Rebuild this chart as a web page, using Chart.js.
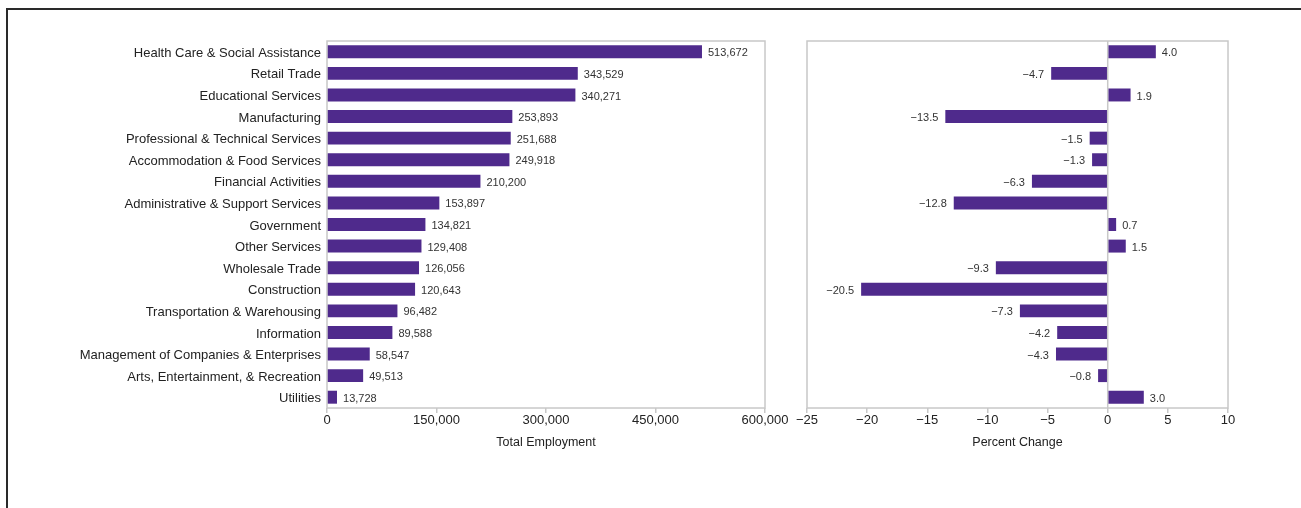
<!DOCTYPE html>
<html>
<head>
<meta charset="utf-8">
<script src="https://cdn.jsdelivr.net/npm/chart.js@4.4.0/dist/chart.umd.min.js"></script>
<style>
  html, body { margin: 0; padding: 0; background: #fff; width: 1301px; height: 508px; overflow: hidden; }
  #frame { position: absolute; left: 6px; top: 8px; width: 1310px; height: 520px; border: 2px solid #2a2a2a; box-sizing: border-box; }
  .box { position: absolute; top: 0; height: 508px; }
  #c1box { left: 0; width: 790px; }
  #c2box { left: 790px; width: 511px; }
</style>
</head>
<body>
<div id="frame"></div>
<div class="box" id="c1box"><canvas id="c1"></canvas></div>
<div class="box" id="c2box"><canvas id="c2"></canvas></div>
<script>
const categories = [
  "Health Care & Social Assistance",
  "Retail Trade",
  "Educational Services",
  "Manufacturing",
  "Professional & Technical Services",
  "Accommodation & Food Services",
  "Financial Activities",
  "Administrative & Support Services",
  "Government",
  "Other Services",
  "Wholesale Trade",
  "Construction",
  "Transportation & Warehousing",
  "Information",
  "Management of Companies & Enterprises",
  "Arts, Entertainment, & Recreation",
  "Utilities"
];
const totalEmployment = [513672, 343529, 340271, 253893, 251688, 249918, 210200, 153897, 134821, 129408, 126056, 120643, 96482, 89588, 58547, 49513, 13728];
const percentChange = [4.0, -4.7, 1.9, -13.5, -1.5, -1.3, -6.3, -12.8, 0.7, 1.5, -9.3, -20.5, -7.3, -4.2, -4.3, -0.8, 3.0];
const employmentTicks = [0, 150000, 300000, 450000, 600000];
const percentTicks = [-25, -20, -15, -10, -5, 0, 5, 10];

const BAR = '#4f2a8c';
const FONT = '"Liberation Sans", Arial, Helvetica, sans-serif';
const MINUS = '\u2212';
const fmtEmp = v => v.toLocaleString('en-US');
const fmtPct = v => (v < 0 ? MINUS : '') + Math.abs(v).toFixed(1);

function framePlugin(zeroLine) {
  return {
    id: 'frameBox',
    beforeDatasetsDraw(chart) {
      const a = chart.chartArea, ctx = chart.ctx;
      ctx.save();
      ctx.strokeStyle = '#c8c8c8';
      ctx.lineWidth = 1.5;
      ctx.strokeRect(a.left, a.top, a.right - a.left, a.bottom - a.top);
      if (zeroLine) {
        const x = chart.scales.x.getPixelForValue(0);
        ctx.beginPath();
        ctx.moveTo(x, a.top);
        ctx.lineTo(x, a.bottom);
        ctx.stroke();
      }
      ctx.restore();
    }
  };
}
function labelPlugin(fmt) {
  return {
    id: 'valLabels',
    afterDatasetsDraw(chart) {
      const ctx = chart.ctx;
      const meta = chart.getDatasetMeta(0);
      const data = chart.data.datasets[0].data;
      ctx.save();
      ctx.font = '11px ' + FONT;
      ctx.fillStyle = '#333';
      ctx.textBaseline = 'middle';
      meta.data.forEach((el, i) => {
        const v = data[i];
        if (v >= 0) { ctx.textAlign = 'left'; ctx.fillText(fmt(v), el.x + 6, el.y + 1.5); }
        else { ctx.textAlign = 'right'; ctx.fillText(fmt(v), el.x - 7, el.y + 1.5); }
      });
      ctx.restore();
    }
  };
}

const xCommon = (min, max, ticksArr, fmt, title) => ({
  type: 'linear', min, max,
  afterBuildTicks: s => { s.ticks = ticksArr.map(v => ({ value: v })); },
  afterFit: s => { s.height = 50; },
  border: { display: false },
  grid: { display: true, drawOnChartArea: false, drawTicks: true, tickLength: 5, color: '#c8c8c8', lineWidth: 1.5 },
  ticks: { color: '#222', font: { family: FONT, size: 13 }, padding: 0, maxRotation: 0, autoSkip: false, callback: v => fmt(v) },
  title: { display: true, text: title, color: '#222', font: { family: FONT, size: 12.5 }, padding: { top: 2, bottom: 8 } }
});

Chart.defaults.animation = false;
Chart.defaults.responsive = true;
Chart.defaults.maintainAspectRatio = false;

new Chart(document.getElementById('c1'), {
  type: 'bar',
  data: { labels: categories, datasets: [{ data: totalEmployment, backgroundColor: BAR, barPercentage: 0.6, categoryPercentage: 1 }] },
  options: {
    indexAxis: 'y',
    layout: { padding: { left: 0, right: 25, top: 41, bottom: 50 } },
    plugins: { legend: { display: false }, tooltip: { enabled: false } },
    scales: {
      x: xCommon(0, 600000, employmentTicks, v => fmtEmp(v), 'Total Employment'),
      y: {
        afterFit: s => { s.width = 327; },
        border: { display: false },
        grid: { display: false, drawTicks: false },
        ticks: { color: '#222', font: { family: FONT, size: 13 }, padding: 6, labelOffset: 1.5, autoSkip: false }
      }
    }
  },
  plugins: [framePlugin(false), labelPlugin(fmtEmp)]
});

new Chart(document.getElementById('c2'), {
  type: 'bar',
  data: { labels: categories, datasets: [{ data: percentChange, backgroundColor: BAR, barPercentage: 0.6, categoryPercentage: 1 }] },
  options: {
    indexAxis: 'y',
    layout: { padding: { left: 17, right: 73, top: 41, bottom: 50 } },
    plugins: { legend: { display: false }, tooltip: { enabled: false } },
    scales: {
      x: xCommon(-25, 10, percentTicks, v => fmtPct(v).replace('.0', ''), 'Percent Change'),
      y: { display: false }
    }
  },
  plugins: [framePlugin(true), labelPlugin(fmtPct)]
});
</script>
</body>
</html>
